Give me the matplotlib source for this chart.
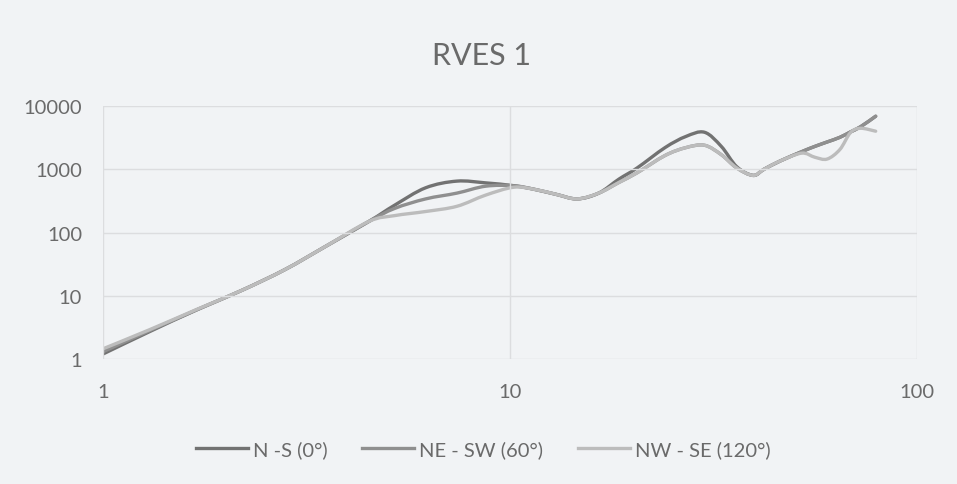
# RVES 1 - three directions on a log-log chart

import numpy as np
import matplotlib.pyplot as plt
from matplotlib.path import Path
from matplotlib.patches import PathPatch
from matplotlib.lines import Line2D

plt.rcParams['font.family'] = ['Lato', 'DejaVu Sans']

# spacing values (x) shared by the three series
spacing = [1, 1.3, 1.7, 2.2, 2.8, 3.5, 4.5, 5.2, 6.2, 7.4, 8.7, 10.2, 11.5, 13,
           14.6, 16.5, 18.5, 20.5, 24, 27, 30, 33, 36, 39.5, 42, 46, 52, 56,
           60, 64.5, 68.5, 72.5, 79]

ns_0 = [1.2, 2.7, 6.0, 12.3, 26, 59, 150, 270, 510, 650, 610, 550, 480, 400,
        340, 420, 700, 1050, 2200, 3300, 3850, 2300, 1100, 800, 1000, 1350,
        1900, 2300, 2700, 3200, 3900, 4700, 6900]

ne_sw_60 = [1.3, 2.8, 6.0, 12.3, 26, 59, 150, 240, 340, 420, 540, 550, 480, 400,
            340, 420, 620, 880, 1650, 2200, 2400, 1700, 1050, 800, 1000, 1350,
            1900, 2300, 2700, 3200, 3900, 4700, 6900]

nw_se_120 = [1.45, 2.9, 6.1, 12.3, 26, 59, 150, 185, 215, 260, 390, 520, 480, 400,
             340, 420, 620, 880, 1650, 2200, 2400, 1700, 1050, 800, 1000, 1350,
             1800, 1550, 1450, 2050, 3800, 4450, 4000]

labels = ['N -S (0°)', 'NE - SW (60°)', 'NW - SE (120°)']
colors = ['#727272', '#8f8f8f', '#bcbcbc']


def smooth_path(xs, ys):
    # excel-like smoothed line: bezier segments built in log space
    pts = np.column_stack([np.log10(xs), np.log10(ys)])
    verts = [pts[0]]
    codes = [Path.MOVETO]
    n = len(pts)
    for i in range(n - 1):
        p0 = pts[i - 1] if i > 0 else pts[i]
        p1, p2 = pts[i], pts[i + 1]
        p3 = pts[i + 2] if i + 2 < n else pts[i + 1]
        verts += [p1 + (p2 - p0) / 6, p2 - (p3 - p1) / 6, p2]
        codes += [Path.CURVE4] * 3
    return Path(10 ** np.array(verts), codes)


bg = '#f1f3f5'
fig = plt.figure(figsize=(9.57, 4.85), dpi=100, facecolor=bg)
ax = fig.add_axes([0.1076, 0.2577, 0.851, 0.5216], facecolor=bg)

handles = []
for ys, lab, col in zip([ns_0, ne_sw_60, nw_se_120], labels, colors):
    ax.add_patch(PathPatch(smooth_path(spacing, ys), fill=False, ec=col, lw=2.4,
                           capstyle='round', joinstyle='round'))
    handles.append(Line2D([], [], color=col, lw=2.4, label=lab))

ax.set_xscale('log')
ax.set_yscale('log')
ax.set_xlim(1, 100)
ax.set_ylim(1, 10000)
ax.set_xticks([1, 10, 100])
ax.set_xticklabels(['1', '10', '100'])
ax.set_yticks([1, 10, 100, 1000, 10000])
ax.set_yticklabels(['1', '10', '100', '1000', '10000'])
ax.minorticks_off()
ax.grid(True, color='#dcdddf', lw=1)
ax.tick_params(length=0, labelsize=14.5, colors='#6a6a6a')
ax.tick_params(axis='x', pad=17)
ax.tick_params(axis='y', pad=15)
for s in ax.spines.values():
    s.set_visible(False)

fig.text(0.503, 0.884, 'RVES 1', ha='center', va='center', fontsize=22, color='#6a6a6a')

fig.legend(handles=handles, loc='center', bbox_to_anchor=(0.505, 0.072), ncol=3,
           frameon=False, fontsize=14.5, labelcolor='#6a6a6a', handlelength=2.6,
           columnspacing=1.7, handletextpad=0.25)

fig.savefig('out.png', dpi=100, facecolor=bg)
